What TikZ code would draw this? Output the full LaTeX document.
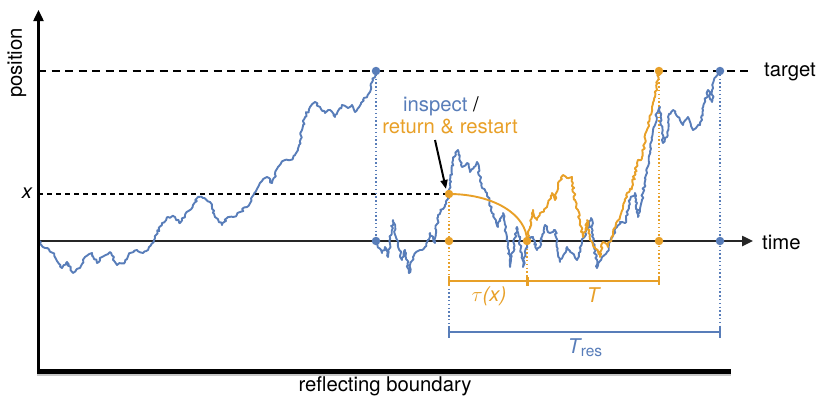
\documentclass[tikz,border=0pt]{standalone}
\usepackage{fontspec}
\setmainfont{TeX Gyre Heros}
\usetikzlibrary{decorations.pathmorphing,arrows.meta}
\definecolor{pblue}{RGB}{88,125,185}
\definecolor{porange}{RGB}{232,160,40}
\tikzset{
  walk/.style={line width=1.9pt, line join=round, decorate, decoration={random steps,segment length=2.2pt,amplitude=1.3pt}},
  dotline/.style={line width=1.9pt, dash pattern=on 1.4pt off 2.4pt},
  pdot/.style={circle, fill, inner sep=0pt, minimum size=8.5pt},
  axis/.style={line width=2.4pt, -{Triangle[length=11pt,width=10pt]}},
  lbl/.style={inner sep=1pt},
  brk/.style={line width=1.9pt},
}
\begin{document}
\begin{tikzpicture}[x=1pt,y=-1pt, font=\fontsize{20.3}{23}\selectfont]
\useasboundingbox (0,0) rectangle (830,407);
\pgfmathsetseed{4217}
% key points
\coordinate (o) at (38,241);
\coordinate (bt1) at (376,71);
\coordinate (bb1) at (376,241);
\coordinate (ox) at (449,194);
\coordinate (ob1) at (449,241);
\coordinate (ob2) at (527,241);
\coordinate (ot) at (659,71);
\coordinate (ob3) at (659,241);
\coordinate (bt2) at (720,71);
\coordinate (bb2) at (720,241);
\coordinate (r1) at (449,281);
\coordinate (r2) at (527,281);
\coordinate (r3) at (659,281);
\coordinate (s1) at (449,332);
\coordinate (s2) at (720,332);
\coordinate (tgtL) at (38,71);
\coordinate (tgtR) at (752,71);
\coordinate (xL) at (38,194);
\coordinate (tmR) at (753,241);
\coordinate (axB) at (38.5,373);
\coordinate (axT) at (38.5,10);
\coordinate (rbL) at (37,371);
\coordinate (rbR) at (731,371);
\coordinate (rsL) at (37,374.5);
\coordinate (rsR) at (731,374.5);

% dashed reference lines
\draw[line width=2.8pt, dash pattern=on 8pt off 5.5pt] (tgtL) -- (tgtR);
\draw[line width=1.7pt, dash pattern=on 5pt off 4pt] (xL) -- (ox);

% dotted verticals
\draw[dotline, pblue] (bt1) -- (bb1);
\draw[dotline, porange] (ox) -- (r1);
\draw[dotline, pblue] (r1) -- (s1);
\draw[dotline, porange] (ob2) -- (r2);
\draw[dotline, porange] (ot) -- (r3);
\draw[dotline, pblue] (bt2) -- (s2);

% time axis
\draw[axis, black!85] (o) -- (tmR);

% blue walk 1
\draw[walk, pblue] (38,240) -- (45,248) -- (53,253) -- (62,268) -- (67,262) -- (73,273) -- (80,268) -- (85,257) -- (92,253) -- (97,263) -- (102,257) -- (110,252) -- (117,265) -- (125,262) -- (130,253) -- (137,250) -- (143,253) -- (148,250) -- (155,238) -- (162,223) -- (168,217) -- (175,217) -- (180,223) -- (185,215) -- (193,205) -- (198,197) -- (203,198) -- (210,202) -- (215,217) -- (222,225) -- (227,218) -- (233,217) -- (240,212) -- (247,207) -- (252,197) -- (260,183) -- (267,177) -- (272,183) -- (278,167) -- (285,160) -- (293,158) -- (298,150) -- (302,130) -- (305,117) -- (310,107) -- (315,102) -- (320,107) -- (325,113) -- (330,110) -- (335,117) -- (342,105) -- (348,108) -- (352,105) -- (355,112) -- (363,100) -- (370,92) -- (373,80) -- (bt1);

% blue walk 2
\draw[walk, pblue] (bb1) -- (382,253) -- (385,247) -- (388,257) -- (393,220) -- (397,240) -- (402,260) -- (405,250) -- (409,273) -- (413,257) -- (420,250) -- (425,247) -- (430,233) -- (435,243) -- (438,215) -- (445,205) -- (449,193) -- (453,160) -- (458,150) -- (462,167) -- (467,163) -- (470,172) -- (477,162) -- (482,188) -- (487,193) -- (492,213) -- (498,227) -- (503,213) -- (507,237) -- (510,267) -- (517,227) -- (520,240) -- (523,267) -- (528,240) -- (533,237) -- (537,250) -- (540,247) -- (545,225) -- (550,233) -- (555,230) -- (560,262) -- (567,247) -- (572,253) -- (577,260) -- (582,242) -- (588,228) -- (591,218) -- (593,235) -- (597,268) -- (602,257) -- (607,252) -- (613,235) -- (620,222) -- (625,223) -- (630,200) -- (635,193) -- (638,217) -- (643,193) -- (647,173) -- (652,140) -- (657,113) -- (660,107) -- (663,143) -- (667,137) -- (668,117) -- (673,110) -- (678,117) -- (683,125) -- (688,117) -- (693,130) -- (700,125) -- (703,110) -- (708,90) -- (712,102) -- (713,83) -- (bt2);

% orange return curve
\draw[line width=1.9pt, porange] (ox) .. controls (494,194) and (527,215) .. (ob2);
% orange walk
\draw[walk, porange] (ob2) -- (530,227) -- (533,210) -- (537,220) -- (542,212) -- (547,207) -- (552,193) -- (555,200) -- (558,183) -- (563,175) -- (567,178) -- (572,177) -- (575,200) -- (580,220) -- (583,237) -- (587,220) -- (590,240) -- (595,247) -- (600,257) -- (603,242) -- (608,247) -- (613,233) -- (620,217) -- (623,207) -- (627,193) -- (632,187) -- (637,163) -- (642,157) -- (647,130) -- (652,107) -- (655,97) -- (658,80) -- (ot);

% vertical axis and reflecting boundary
\draw[line width=2pt, black!22] (rsL) -- (rsR);
\draw[line width=5pt] (rbL) -- (rbR);
\draw[axis] (axB) -- (axT);

% dots
\node[pdot, pblue] (d1) at (bt1) {};
\node[pdot, pblue] (d2) at (bb1) {};
\node[pdot, pblue] (d3) at (bt2) {};
\node[pdot, pblue] (d4) at (bb2) {};
\node[pdot, porange] (d5) at (ox) {};
\node[pdot, porange] (d6) at (ob1) {};
\node[pdot, porange] (d7) at (ob2) {};
\node[pdot, porange] (d8) at (ot) {};
\node[pdot, porange] (d9) at (ob3) {};

% brackets
\draw[brk, porange] (r1) -- (r3);
\draw[brk, porange] (449,276) -- (449,286);
\draw[line width=3pt, porange] (527,277) -- (527,286);
\draw[brk, porange] (659,276) -- (659,285);
\draw[brk, pblue] (s1) -- (s2);
\draw[brk, pblue] (449,326) -- (449,338);
\draw[brk, pblue] (720,326) -- (720,338);

% labels
\node[lbl, anchor=west] (ltime) at (761,242) {time};
\node[lbl, anchor=west] (ltarget) at (763,72) {target};
\node[lbl] (lx) at (27,193) {\itshape x};
\node[lbl, rotate=90] (lpos) at (17,63) {position};
\node[lbl] (lrb) at (385,386) {reflecting boundary};
\node[lbl, text=porange] (ltau) at (489,296) {$\tau$\textit{(x)}};
\node[lbl, text=porange] (lT) at (593,295) {\itshape T};
\node[lbl, text=pblue] (lTres) at (585,348) {\itshape T\kern0.5pt\raisebox{-3pt}{\upshape\fontsize{15.5}{15}\selectfont res}};
\node[lbl] (lins) at (441,106) {\textcolor{pblue}{inspect} /};
\node[lbl, text=porange] (lret) at (450,127) {return \& restart};
\draw[line width=2pt, -{Triangle[length=9pt,width=7pt]}] (435,140) -- (446,189);
\end{tikzpicture}
\end{document}
